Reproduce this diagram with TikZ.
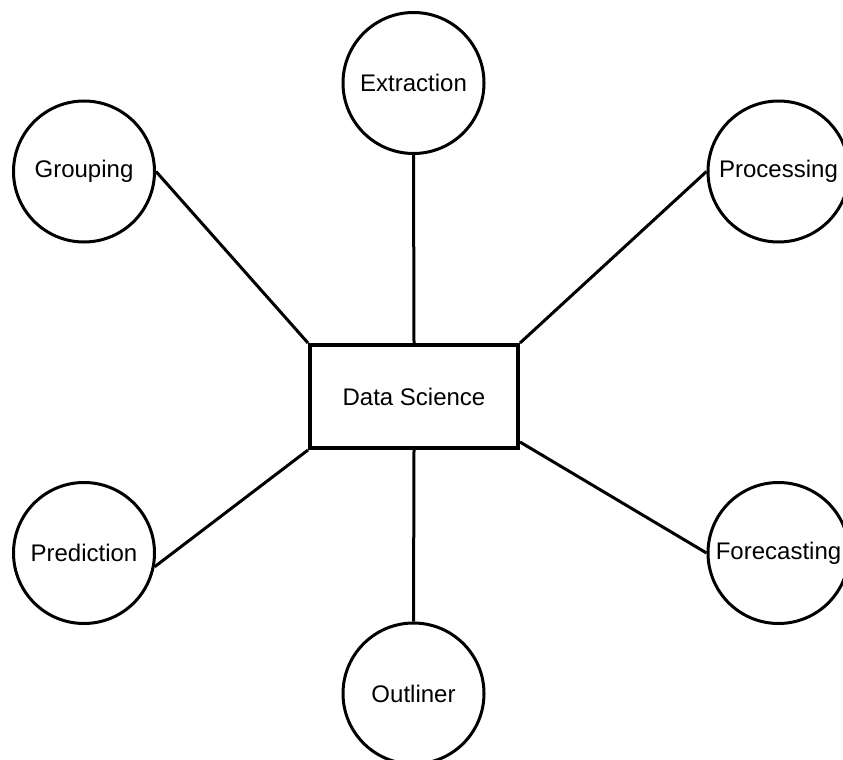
\documentclass[tikz,border=0pt]{standalone}
\usepackage{fontspec}
\setmainfont{Liberation Sans}
\begin{document}
\begin{tikzpicture}[x=1pt,y=-1pt,
  bubble/.style={circle,draw=black,line width=3pt,minimum size=141pt,inner sep=0pt,fill=white,font=\fontsize{24}{28}\selectfont},
  hub/.style={rectangle,draw=black,line width=4pt,minimum width=208pt,minimum height=103pt,inner sep=0pt,fill=white,font=\fontsize{24}{28}\selectfont},
  link/.style={draw=black,line width=3pt}]
\useasboundingbox (0,0) rectangle (843,760);
\fill[white] (0,0) rectangle (843,760);
\node[hub] (ds) at (414,396.5) {Data Science};
\node[bubble] (ext) at (413.5,83) {Extraction};
\node[bubble] (grp) at (84,171.5) {Grouping};
\node[bubble] (proc) at (778.5,171.5) {Processing};
\node[bubble] (pred) at (84,553) {Prediction};
\node[bubble] (fc) at (778.5,553) {Forecasting};
\node[bubble] (out) at (413.5,693.5) {Outliner};
\draw[link] (ext.south) -- (ds.north);
\draw[link] (grp.east) -- (ds.north west);
\draw[link] (proc.west) -- (ds.north east);
\draw[link] (pred.-11) -- (ds.south west);
\draw[link] ([yshift=8pt]ds.south east) -- (fc.west);
\draw[link] (ds.south) -- (out.north);
\end{tikzpicture}
\end{document}
